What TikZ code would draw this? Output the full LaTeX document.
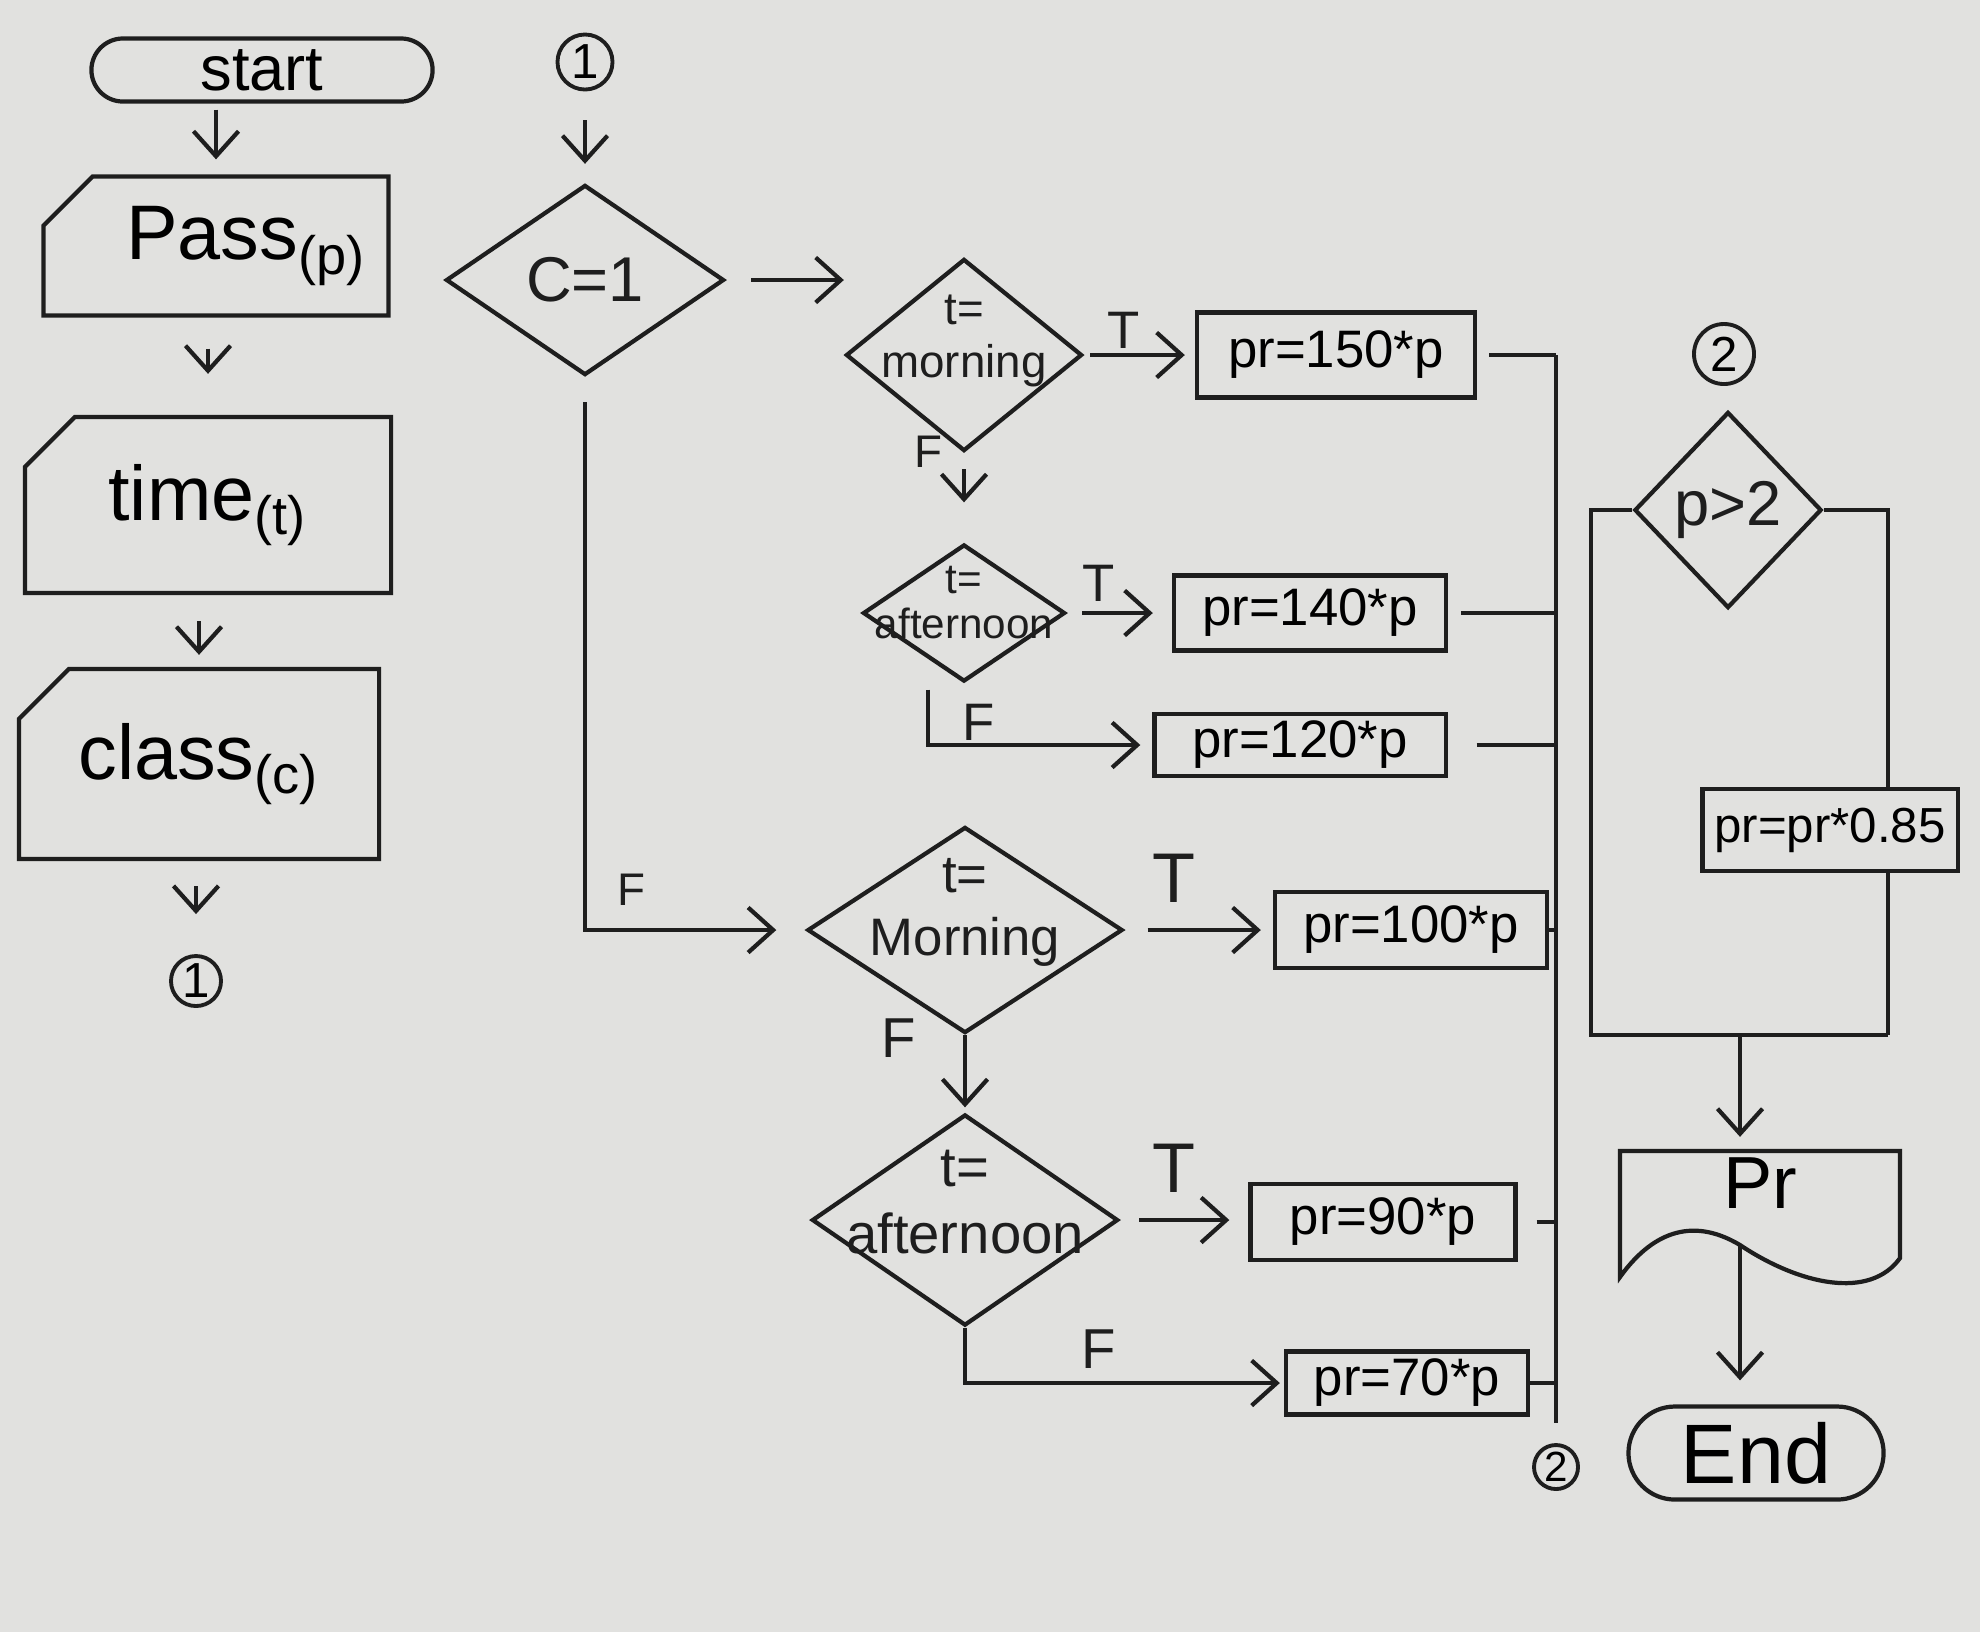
\documentclass[tikz,border=0pt]{standalone}
\usepackage{fontspec}
\setmainfont{Liberation Sans}
\usetikzlibrary{positioning,arrows.meta,shapes.geometric,shapes.misc}
\definecolor{Paper}{HTML}{E1E1DF}
\definecolor{Ink}{HTML}{1E1E1E}
\tikzset{
  termbox/.style={draw=Ink, line width=1.2pt, rounded rectangle, inner sep=1pt,
                  font=\fontsize{18}{21}\selectfont},
  inbox/.style={draw=Ink, line width=1.2pt, chamfered rectangle,
                chamfered rectangle corners=north west, chamfered rectangle xsep=2mm,
                chamfered rectangle ysep=3mm, inner xsep=0pt, inner ysep=-2mm,
                font=\fontsize{22}{26}\selectfont},
  decide/.style={draw=Ink, line width=1.2pt, diamond, inner sep=0pt},
  dtext/.style={align=center, inner sep=0pt, text=Ink},
  procbox/.style={draw=Ink, line width=1.2pt, rectangle, inner sep=2pt,
                  font=\fontsize{15}{18}\selectfont},
  conn/.style={draw=Ink, line width=1.1pt, circle, inner sep=0pt, font=\fontsize{14}{16}\selectfont},
  docbox/.style={rectangle, inner sep=2pt, text depth=6mm, font=\fontsize{21}{24}\selectfont},
  tag/.style={inner sep=1pt, text=Ink, font=\fontsize{15}{18}\selectfont},
  flow/.style={-{Straight Barb[length=2.5mm,width=4.5mm]}, line width=1.2pt, Ink},
  link/.style={line width=1.2pt, Ink},
}

\begin{document}
\begin{tikzpicture}[x=0.01cm, y=-0.01cm]
  \fill[Paper] (0,0) rectangle (1980,1632);
  \useasboundingbox (0,0) rectangle (1980,1632);

  % inputs
  \node[termbox, minimum width=3.48cm, minimum height=0.63cm] (start) at (262,70) {start};
  \node[inbox, minimum width=3.45cm, minimum height=1.39cm] (pass) at (216,246) {\hspace{6mm}Pass\textsubscript{(p)}};
  \node[inbox, minimum width=3.66cm, minimum height=1.76cm] (time) at (208,505) {time\textsubscript{(t)}};
  \node[inbox, minimum width=3.60cm, minimum height=1.90cm] (class) at (199,764) {class\textsubscript{(c)}};
  \node[conn, minimum size=0.5cm] (c1a) at (196,981) {1};

  \draw[flow, shorten <=0.6mm, shorten >=1.5mm] (start.south -| pass.north) -- (pass.north);
  \draw[flow, shorten <=3.1mm, shorten >=4.1mm] (time.north |- pass.south) -- (time.north);
  \draw[flow, shorten <=2.6mm, shorten >=1.2mm] (class.north |- time.south) -- (class.north);
  \draw[flow, shorten <=2.5mm, shorten >=4mm] (c1a.north |- class.south) -- (c1a.north);

  % decisions
  \node[conn, minimum size=0.55cm] (c1b) at (585,62) {1};
  \node[decide, minimum width=2.78cm, minimum height=1.9cm] (cone) at (585,280) {};
  \node[dtext, font=\fontsize{18}{21}\selectfont] (conet) at (cone) {C=1};
  \node[decide, minimum width=2.36cm, minimum height=1.92cm] (tmA) at (964,355) {};
  \node[dtext, font=\fontsize{13}{15}\selectfont, yshift=4pt] (tmAt) at (tmA) {t=\\morning};
  \node[decide, minimum width=2.02cm, minimum height=1.37cm] (tnA) at (964,613) {};
  \node[dtext, font=\fontsize{12}{13}\selectfont, yshift=3pt] (tnAt) at (tnA) {t=\\afternoon};
  \node[decide, minimum width=3.15cm, minimum height=2.06cm] (tmB) at (965,930) {};
  \node[dtext, font=\fontsize{15}{18}\selectfont, yshift=5pt] (tmBt) at (tmB) {t=\\Morning};
  \node[decide, minimum width=3.06cm, minimum height=2.11cm] (tnB) at (965,1220) {};
  \node[dtext, font=\fontsize{16}{19}\selectfont, yshift=5pt] (tnBt) at (tnB) {t=\\afternoon};

  % prices
  \node[procbox, minimum width=2.78cm, minimum height=0.85cm] (pA) at (1336,355) {pr=150*p};
  \node[procbox, minimum width=2.72cm, minimum height=0.75cm] (pB) at (1310,613) {pr=140*p};
  \node[procbox, minimum width=2.91cm, minimum height=0.58cm] (pC) at (1300,745) {pr=120*p};
  \node[procbox, minimum width=2.72cm, minimum height=0.76cm] (pD) at (1411,930) {pr=100*p};
  \node[procbox, minimum width=2.65cm, minimum height=0.76cm] (pE) at (1383,1222) {pr=90*p};
  \node[procbox, minimum width=2.42cm, minimum height=0.63cm] (pF) at (1407,1383) {pr=70*p};
  \node[conn, minimum size=0.44cm, font=\fontsize{12}{14}\selectfont] (c2b) at (1556,1467) {2};

  \node[tag] (tA) at (1124,330) {T};
  \node[tag, font=\fontsize{13}{15}\selectfont] (fA) at (928,452) {F};
  \node[tag] (tB) at (1099,583) {T};
  \node[tag] (fB) at (979,722) {F};
  \node[tag, font=\fontsize{13}{15}\selectfont] (fC) at (631,890) {F};
  \node[tag, font=\fontsize{20}{24}\selectfont] (tD) at (1174,878) {T};
  \node[tag, font=\fontsize{16}{19}\selectfont] (fD) at (899,1038) {F};
  \node[tag, font=\fontsize{20}{24}\selectfont] (tE) at (1174,1168) {T};
  \node[tag, font=\fontsize{16}{19}\selectfont] (fE) at (1099,1349) {F};

  \draw[flow, shorten <=2.9mm, shorten >=1.9mm] (c1b.south) -- (cone.north);
  \draw[flow, shorten <=2.5mm] (cone.east) -- (cone.east -| tmA.west);
  \draw[flow, shorten <=2.5mm, shorten >=2.9mm] (cone.south) |- (tmB.west);
  \draw[flow, shorten <=0.6mm, shorten >=1mm] (tmA.east) -- (pA.west);
  \draw[flow, shorten <=1.6mm, shorten >=4mm] (tmA.south) -- (tnA.north);
  \draw[flow, shorten <=1.5mm, shorten >=1.9mm] (tnA.east) -- (tnA.east -| pB.west);
  \draw[flow, shorten <=0.6mm, shorten >=1.2mm] ([xshift=-3.6mm]tnA.south) |- (pC.west);
  \draw[flow, shorten <=2.3mm, shorten >=1.2mm] (tmB.east) -- (pD.west);
  \draw[flow, shorten >=0.5mm] (tmB.south) -- (tnB.north);
  \draw[flow, shorten <=1.9mm, shorten >=1.9mm] (tnB.east) -- (tnB.east -| pE.west);
  \draw[flow, shorten >=0.4mm] (tnB.south) |- (pF.west);

  % joining line
  \draw[link, shorten >=2mm] (pA.east -| c2b) -- (c2b.north);
  \draw[link, shorten <=1.2mm] (pA.east) -- (pA.east -| c2b);
  \draw[link, shorten <=1.3mm] (pB.east) -- (pB.east -| c2b);
  \draw[link, shorten <=2.9mm] (pC.east) -- (pC.east -| c2b);
  \draw[link] (pD.east) -- (pD.east -| c2b);
  \draw[link, shorten <=1.9mm] (pE.east) -- (pE.east -| c2b);
  \draw[link] (pF.east) -- (pF.east -| c2b);

  % discount and output
  \node[conn, minimum size=0.6cm] (c2a) at (1724,354) {2};
  \node[decide, minimum width=1.87cm, minimum height=1.96cm] (dP) at (1728,510) {};
  \node[dtext, font=\fontsize{18}{21}\selectfont] (dPt) at (dP) {p>2};
  \node[procbox, font=\fontsize{14}{17}\selectfont, inner sep=1pt,
        minimum width=2.55cm, minimum height=0.82cm] (pG) at (1830,830) {pr=pr*0.85};
  \node[docbox, minimum width=2.8cm, minimum height=1.24cm] (outP) at (1760,1213) {Pr};
  \node[termbox, font=\fontsize{24}{28}\selectfont,
        minimum width=2.62cm, minimum height=0.93cm] (endT) at (1756,1453) {End};
  \coordinate (joinL) at (1591,1035);
  \coordinate (joinR) at (1888,1035);
  \coordinate (outBot) at (1740,1245);

  \draw[link, shift={(outP.center)}] (-140,-62) -- (140,-62) -- (140,45)
    .. controls (110,87) and (40,72) .. (-20,32)
    .. controls (-70,2) and (-110,22) .. (-140,64) -- cycle;
  \draw[link] (dP.west) -| (joinL) -- (joinR);
  \draw[link] (dP.east) -| (joinR |- pG.north);
  \draw[link] (joinR |- pG.south) -- (joinR);
  \draw[flow, shorten >=1.3mm] (outBot |- joinL) -- (outBot |- outP.north);
  \draw[flow, shorten >=2.4mm] (outBot) -- (outBot |- endT.north);
\end{tikzpicture}
\end{document}
